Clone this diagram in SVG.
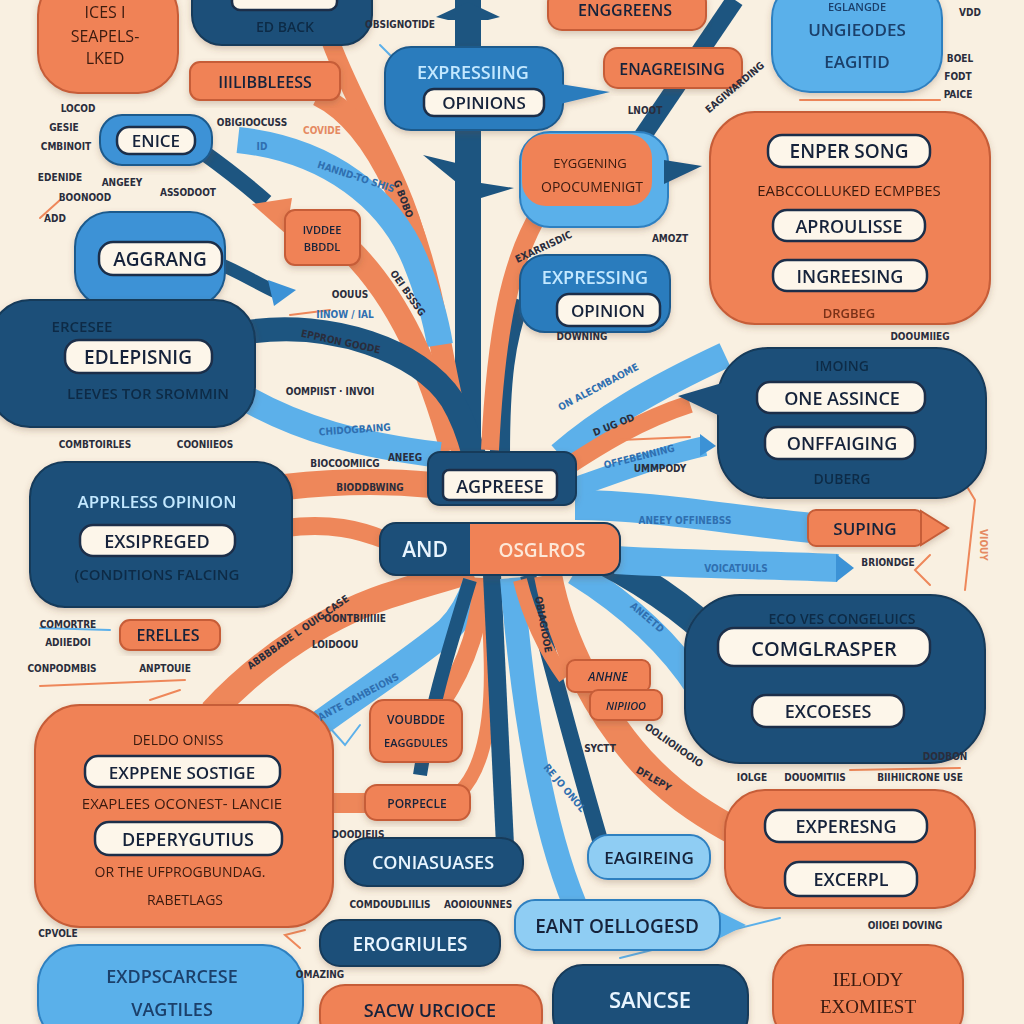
<svg xmlns="http://www.w3.org/2000/svg" width="1024" height="1024" viewBox="0 0 1024 1024">
<defs>
<style>
.or{fill:#f08257;stroke:#c65d38;stroke-width:2}
.nv{fill:#1c5079;stroke:#133a5a;stroke-width:2}
.mb{fill:#2b7cbd;stroke:#1c5a8c;stroke-width:2}
.lb{fill:#5ab0ea;stroke:#2f80c0;stroke-width:2}
.pl{fill:#8fcdf3;stroke:#2f80c0;stroke-width:2}
.pill{fill:#fdf6ea;stroke:#1a2f4a;stroke-width:2.5}
.t{font-family:"Open Sans","DejaVu Sans",sans-serif;font-weight:600;text-anchor:middle;fill:#16243b}
.w{fill:#e9f5ff}
.lt{fill:#c3e8ff}
.dm{fill:#0e2b46}
.br{fill:#3a1a10;font-weight:500}
.s{font-family:"DejaVu Sans Condensed","DejaVu Sans",sans-serif;font-weight:700;font-size:10px;fill:#2a2d3c;text-anchor:middle}
.so{fill:#e58a62}
.sb{fill:#2f6fb0}
.ro{fill:none;stroke:#ee875a}
.rl{fill:none;stroke:#5cb0ea}
.rn{fill:none;stroke:#1d5580}
.ln{fill:none;stroke-width:2;stroke-linecap:round}
</style>
<filter id="sh" x="-10%" y="-10%" width="120%" height="130%"><feDropShadow dx="0" dy="3" stdDeviation="3" flood-color="#6b4a30" flood-opacity="0.25"/></filter>
</defs>
<rect width="1024" height="1024" fill="#f9f0e1"/>

<g id="connectors">
<path class="rn" stroke-width="26" d="M468,0 L468,470"/>
<polygon points="436,17 468,2 500,17 488,20 448,20" fill="#1d5580"/>
<polygon points="423,155 456,163 456,182" fill="#1d5580"/>
<polygon points="481,183 514,188 481,198" fill="#1d5580"/>
<path class="ro" stroke-width="18" d="M330,40 C360,120 400,170 420,250 S450,390 460,450"/>
<path class="ro" stroke-width="22" d="M318,95 C380,125 420,230 438,330 S458,420 464,450"/>
<path class="rl" stroke-width="26" d="M238,140 C330,150 390,200 415,260 C428,292 436,320 440,345"/>
<path class="ro" stroke-width="24" d="M350,250 C400,300 430,370 452,450"/>
<path class="rn" stroke-width="16" d="M200,150 C228,170 248,186 266,202"/>
<polygon points="252,204 292,198 286,234" fill="#ee875a"/>
<path class="rn" stroke-width="13" d="M215,262 C240,272 258,284 276,292"/>
<polygon points="268,280 296,290 274,306" fill="#3c92d6"/>
<path class="rn" stroke-width="24" d="M248,332 C330,320 420,350 452,400 C464,420 470,440 474,455"/>
<path class="rl" stroke-width="26" d="M240,395 C300,430 360,445 440,455"/>
<path class="ro" stroke-width="26" d="M285,487 C330,482 380,480 432,485"/>
<path class="ro" stroke-width="18" d="M285,528 C330,522 360,530 385,540"/>
<path class="ro" stroke-width="26" d="M212,712 C260,660 330,612 400,592 C430,582 455,576 472,570"/>
<path class="rl" stroke-width="26" d="M300,738 C350,700 410,662 448,630 C460,618 470,600 476,582"/>
<polygon points="316,710 290,744 330,736" fill="#5cb0ea"/>
<path class="ro" stroke-width="18" d="M440,705 C470,660 480,620 482,578"/>
<path class="ro" stroke-width="20" d="M330,803 L370,803"/>
<path class="ro" stroke-width="14" d="M460,792 C500,752 492,650 486,578"/>
<path class="rn" stroke-width="14" d="M470,580 C452,640 432,700 420,775"/>
<path class="rn" stroke-width="18" d="M492,575 C496,650 500,740 505,845"/>
<path class="rl" stroke-width="24" d="M512,578 C522,700 540,820 575,905"/>
<path class="rn" stroke-width="16" d="M528,575 C545,640 565,720 600,840"/>
<path class="ro" stroke-width="14" d="M520,580 C530,620 545,650 565,678"/>
<path class="ro" stroke-width="28" d="M548,575 C560,640 600,720 650,770 C680,800 710,818 736,832"/>
<path class="rl" stroke-width="26" d="M575,572 C620,600 668,640 700,690"/>
<path class="rn" stroke-width="30" d="M580,548 C630,572 680,602 722,645"/>
<path class="rl" stroke-width="30" d="M575,505 C650,505 730,520 812,528"/>
<path class="rl" stroke-width="28" d="M615,560 C700,565 780,565 838,568"/>
<polygon points="836,554 854,568 836,582" fill="#3c92d6"/>
<path class="rl" stroke-width="26" d="M560,455 C600,420 650,390 725,355"/>
<path class="ro" stroke-width="18" d="M562,470 C600,445 640,420 690,404"/>
<path class="rl" stroke-width="20" d="M576,487 C620,472 660,456 705,446"/>
<polygon points="700,434 716,446 700,456" fill="#3c92d6"/>
<path class="rn" stroke-width="20" d="M500,455 C500,380 505,340 520,300"/>
<path class="rn" stroke-width="18" d="M640,140 L735,0"/>
<path class="ro" stroke-width="18" d="M540,212 C510,262 496,330 490,450"/>
<path class="ln" stroke="#5cb0ea" d="M620,958 L780,918"/>
<path class="ln" stroke="#ee875a" d="M150,700 L180,690"/>
<path class="ln" stroke="#ee875a" d="M40,686 L185,680"/>
<path class="ln" stroke="#5cb0ea" d="M40,628 L110,630"/>
<path class="ln" stroke="#ee875a" d="M40,218 L60,200"/>
<path class="ln" stroke="#ee875a" d="M850,770 L960,768"/>
<path class="ln" stroke="#ee875a" d="M800,100 L940,100"/>
<path class="ln" stroke="#ee875a" d="M620,440 L690,437"/>
<path class="ln" stroke="#ee875a" d="M290,315 L330,310"/>
<path class="ln" stroke="#5cb0ea" d="M395,60 L380,45"/>
<polyline class="ln" stroke="#ee875a" points="305,930 285,935 300,948"/>
<polyline class="ln" stroke="#ee875a" points="580,920 560,932 580,945"/>
<polyline class="ln" stroke="#5cb0ea" points="330,728 345,745 360,725"/>
<polyline class="ln" stroke="#ee875a" points="960,475 975,500 965,590"/>
<polyline class="ln" stroke="#ee875a" points="930,555 915,570 930,585"/>
</g>

<g id="n-top-left" filter="url(#sh)"><rect class="or" x="38" y="-25" width="140" height="118" rx="40"/>
<text class="t br" x="105" y="18" font-size="16">ICES I</text>
<text class="t br" x="105" y="42" font-size="16">SEAPELS-</text>
<text class="t br" x="105" y="64" font-size="16">LKED</text></g>

<g id="n-ed-back" filter="url(#sh)"><rect class="nv" x="192" y="-30" width="180" height="75" rx="30"/>
<rect class="pill" x="232" y="-12" width="105" height="22" rx="8"/>
<text class="t dm" x="285" y="32" font-size="14">ED BACK</text></g>

<g id="n-enggreens" filter="url(#sh)"><rect class="or" x="548" y="-12" width="158" height="42" rx="14"/>
<text class="t" x="625" y="16" font-size="16">ENGGREENS</text></g>

<g id="n-unglebodes" filter="url(#sh)"><rect class="lb" x="772" y="-20" width="170" height="112" rx="38"/>
<text class="t" x="857" y="11" font-size="11" style="fill:#1b3f6b">EGLANGDE</text>
<text class="t" x="857" y="36" font-size="17" style="fill:#1b3f6b">UNGIEODES</text>
<text class="t" x="857" y="68" font-size="17" style="fill:#1b3f6b">EAGITID</text></g>

<g id="n-illibbless" filter="url(#sh)"><rect class="or" x="190" y="62" width="150" height="38" rx="10"/>
<text class="t" x="265" y="88" font-size="16">IIILIBBLEESS</text></g>

<g id="n-expressing-opinions" filter="url(#sh)"><rect class="mb" x="385" y="47" width="178" height="83" rx="26"/>
<polygon points="560,84 610,92 560,104" fill="#2b7cbd"/>
<text class="t lt" x="473" y="79" font-size="18">EXPRESSIING</text>
<rect class="pill" x="424" y="89" width="120" height="27" rx="10"/>
<text class="t" x="484" y="109" font-size="17">OPINIONS</text></g>

<g id="n-enagreising" filter="url(#sh)"><rect class="or" x="604" y="48" width="138" height="40" rx="14"/>
<text class="t" x="672" y="75" font-size="16">ENAGREISING</text></g>

<g id="n-eyggening" filter="url(#sh)"><rect class="lb" x="520" y="132" width="148" height="95" rx="30"/>
<polygon points="664,160 702,166 664,184" fill="#1d5580"/>
<rect x="522" y="134" width="130" height="72" rx="24" fill="#f08257"/>
<text class="t br" x="590" y="168" font-size="13">EYGGENING</text>
<text class="t br" x="592" y="192" font-size="14">OPOCUMENIGT</text></g>

<g id="n-enper-song" filter="url(#sh)"><rect class="or" x="710" y="112" width="280" height="212" rx="45"/>
<rect class="pill" x="768" y="135" width="162" height="32" rx="14"/>
<text class="t" x="849" y="158" font-size="19">ENPER SONG</text>
<text class="t br" x="849" y="196" font-size="15">EABCCOLLUKED ECMPBES</text>
<rect class="pill" x="773" y="210" width="152" height="31" rx="14"/>
<text class="t" x="849" y="233" font-size="18">APROULISSE</text>
<rect class="pill" x="773" y="260" width="154" height="31" rx="14"/>
<text class="t" x="850" y="283" font-size="18">INGREESING</text>
<text class="t" x="849" y="318" font-size="13" style="fill:#7a3018">DRGBEG</text></g>

<g id="n-enice" filter="url(#sh)"><rect class="mb" x="100" y="115" width="112" height="50" rx="22" style="fill:#3c92d6"/>
<rect class="pill" x="117" y="127" width="78" height="27" rx="12"/>
<text class="t" x="156" y="147" font-size="17">ENICE</text></g>

<g id="n-aggrang" filter="url(#sh)"><rect class="mb" x="75" y="212" width="150" height="95" rx="35" style="fill:#3c92d6"/>
<rect class="pill" x="99" y="242" width="123" height="33" rx="14"/>
<text class="t" x="160" y="266" font-size="19">AGGRANG</text></g>

<g id="n-ivddee" filter="url(#sh)"><rect class="or" x="285" y="210" width="75" height="55" rx="10"/>
<text class="t" x="322" y="234" font-size="11">IVDDEE</text>
<text class="t" x="322" y="251" font-size="11">BBDDL</text></g>

<g id="n-expressing-opinion" filter="url(#sh)"><rect class="mb" x="520" y="255" width="150" height="77" rx="25"/>
<text class="t lt" x="595" y="284" font-size="18">EXPRESSING</text>
<rect class="pill" x="557" y="294" width="103" height="32" rx="12"/>
<text class="t" x="608" y="317" font-size="17">OPINION</text></g>

<g id="n-edlepisnig" filter="url(#sh)"><rect class="nv" x="-10" y="300" width="265" height="127" rx="40"/>
<text class="t dm" x="82" y="332" font-size="15">ERCESEE</text>
<rect class="pill" x="65" y="340" width="147" height="33" rx="14"/>
<text class="t" x="138" y="364" font-size="19">EDLEPISNIG</text>
<text class="t dm" x="148" y="399" font-size="15">LEEVES TOR SROMMIN</text></g>

<g id="n-one-assince" filter="url(#sh)"><rect class="nv" x="718" y="348" width="268" height="150" rx="50"/>
<polygon points="678,396 722,383 722,417" fill="#1c5079"/>
<text class="t dm" x="842" y="371" font-size="14">IMOING</text>
<rect class="pill" x="757" y="382" width="168" height="31" rx="13"/>
<text class="t" x="842" y="405" font-size="18">ONE ASSINCE</text>
<rect class="pill" x="765" y="427" width="150" height="32" rx="13"/>
<text class="t" x="842" y="450" font-size="18">ONFFAIGING</text>
<text class="t dm" x="842" y="484" font-size="14">DUBERG</text></g>

<g id="n-apprless-opinion" filter="url(#sh)"><rect class="nv" x="30" y="462" width="262" height="145" rx="35"/>
<text class="t lt" x="157" y="508" font-size="17">APPRLESS OPINION</text>
<rect class="pill" x="80" y="525" width="155" height="31" rx="13"/>
<text class="t" x="157" y="548" font-size="18">EXSIPREGED</text>
<text class="t dm" x="157" y="580" font-size="15">(CONDITIONS FALCING</text></g>

<g id="n-agpreese" filter="url(#sh)"><rect class="nv" x="428" y="452" width="148" height="53" rx="12"/>
<rect class="pill" x="443" y="470" width="114" height="30" rx="6"/>
<text class="t" x="500" y="493" font-size="18">AGPREESE</text>
<rect class="nv" x="380" y="523" width="240" height="52" rx="16"/>
<path d="M470,524 H604 A15,15 0 0 1 619,539 V559 A15,15 0 0 1 604,574 H470 Z" fill="#f08257"/>
<text class="t w" x="425" y="557" font-size="21">AND</text>
<text class="t" x="542" y="557" font-size="19" style="fill:#fde8d8">OSGLROS</text></g>

<g id="n-suping" filter="url(#sh)"><rect class="or" x="808" y="510" width="115" height="36" rx="8"/>
<polygon points="921,511 948,528 921,545" fill="#f08257" stroke="#c65d38" stroke-width="2"/>
<text class="t" x="865" y="535" font-size="17">SUPING</text></g>

<g id="n-comglrasper" filter="url(#sh)"><rect class="nv" x="685" y="595" width="300" height="168" rx="55"/>
<text class="t dm" x="842" y="624" font-size="14">ECO VES CONGELUICS</text>
<rect class="pill" x="718" y="628" width="212" height="38" rx="16"/>
<text class="t" x="824" y="656" font-size="20">COMGLRASPER</text>
<rect class="pill" x="752" y="695" width="152" height="32" rx="14"/>
<text class="t" x="828" y="718" font-size="18">EXCOESES</text></g>

<g id="n-erelles" filter="url(#sh)"><rect class="or" x="120" y="620" width="100" height="30" rx="10"/>
<text class="t" x="168" y="641" font-size="16">ERELLES</text></g>

<g id="n-deperygutius" filter="url(#sh)"><rect class="or" x="35" y="705" width="298" height="222" rx="45"/>
<text class="t br" x="178" y="745" font-size="14">DELDO ONISS</text>
<rect class="pill" x="85" y="756" width="195" height="31" rx="13"/>
<text class="t" x="182" y="779" font-size="17">EXPPENE SOSTIGE</text>
<text class="t br" x="182" y="809" font-size="15">EXAPLEES OCONEST- LANCIE</text>
<rect class="pill" x="95" y="822" width="187" height="33" rx="14"/>
<text class="t" x="188" y="846" font-size="18">DEPERYGUTIUS</text>
<text class="t br" x="180" y="877" font-size="14">OR THE UFPROGBUNDAG.</text>
<text class="t br" x="185" y="905" font-size="14">RABETLAGS</text></g>

<g id="n-voubdde" filter="url(#sh)"><rect class="or" x="370" y="700" width="92" height="62" rx="14"/>
<text class="t" x="416" y="724" font-size="12">VOUBDDE</text>
<text class="t" x="416" y="747" font-size="11">EAGGDULES</text></g>

<g id="n-porpecle" filter="url(#sh)"><rect class="or" x="365" y="785" width="105" height="35" rx="12"/>
<text class="t" x="417" y="808" font-size="12">PORPECLE</text></g>

<g id="n-anhne" filter="url(#sh)"><rect class="or" x="567" y="660" width="83" height="32" rx="8"/>
<text class="t" x="608" y="681" font-size="12" font-style="italic">ANHNE</text>
<rect class="or" x="590" y="690" width="72" height="30" rx="8"/>
<text class="t" x="626" y="710" font-size="11" font-style="italic">NIPIIOO</text></g>

<g id="n-coniasuases" filter="url(#sh)"><rect class="nv" x="345" y="838" width="178" height="48" rx="22"/>
<text class="t w" x="433" y="869" font-size="18">CONIASUASES</text></g>

<g id="n-erogriules" filter="url(#sh)"><rect class="nv" x="320" y="920" width="180" height="46" rx="20"/>
<text class="t w" x="410" y="951" font-size="19">EROGRIULES</text></g>

<g id="n-eagireing" filter="url(#sh)"><rect class="pl" x="588" y="835" width="122" height="44" rx="20"/>
<text class="t" x="649" y="864" font-size="17">EAGIREING</text></g>

<g id="n-eant" filter="url(#sh)"><polygon points="712,908 746,925 712,942" fill="#5ab0ea"/>
<rect class="pl" x="515" y="900" width="205" height="50" rx="20"/>
<text class="t" x="617" y="933" font-size="19">EANT OELLOGESD</text></g>

<g id="n-experesng" filter="url(#sh)"><rect class="or" x="725" y="790" width="250" height="118" rx="40"/>
<rect class="pill" x="765" y="810" width="162" height="32" rx="14"/>
<text class="t" x="846" y="833" font-size="18">EXPERESNG</text>
<rect class="pill" x="785" y="862" width="132" height="34" rx="14"/>
<text class="t" x="851" y="886" font-size="18">EXCERPL</text></g>

<g id="n-sancse" filter="url(#sh)"><rect class="nv" x="553" y="965" width="195" height="80" rx="30"/>
<text class="t w" x="650" y="1008" font-size="22">SANCSE</text></g>

<g id="n-ielody" filter="url(#sh)"><rect class="or" x="773" y="945" width="190" height="100" rx="35"/>
<text class="t br" x="868" y="986" font-size="19" style="font-family:'Liberation Serif',serif">IELODY</text>
<text class="t br" x="868" y="1013" font-size="19" style="font-family:'Liberation Serif',serif">EXOMIEST</text></g>

<g id="n-vagtiles" filter="url(#sh)"><rect class="lb" x="38" y="945" width="265" height="100" rx="40"/>
<text class="t" x="172" y="983" font-size="18" style="fill:#1b3f6b">EXDPSCARCESE</text>
<text class="t" x="172" y="1016" font-size="18" style="fill:#1b3f6b">VAGTILES</text></g>

<g id="n-sacw" filter="url(#sh)"><rect class="or" x="320" y="985" width="222" height="60" rx="25"/>
<text class="t" x="430" y="1017" font-size="18">SACW URCIOCE</text></g>

<g id="labels">
<text class="s" x="400" y="28">OBSIGNOTIDE</text>
<text class="s" x="78" y="112">LOCOD</text>
<text class="s" x="64" y="131">GESIE</text>
<text class="s" x="66" y="150">CMBINOIT</text>
<text class="s" x="252" y="126">OBIGIOOCUSS</text>
<text class="s so" x="322" y="134">COVIDE</text>
<text class="s" x="60" y="181">EDENIDE</text>
<text class="s" x="122" y="186">ANGEEY</text>
<text class="s" x="85" y="201">BOONOOD</text>
<text class="s" x="188" y="196">ASSODOOT</text>
<text class="s" x="55" y="222">ADD</text>
<text class="s" x="645" y="114">LNOOT</text>
<text class="s" x="737" y="90" transform="rotate(-40 737 90)">EAGIWARDING</text>
<text class="s" x="670" y="242">AMOZT</text>
<text class="s" x="545" y="250" transform="rotate(-25 545 250)">EXARRISDIC</text>
<text class="s" x="970" y="16">VDD</text>
<text class="s" x="960" y="62">BOEL</text>
<text class="s" x="958" y="80">FODT</text>
<text class="s" x="958" y="98">PAICE</text>
<text class="s" x="350" y="298">OOUUS</text>
<text class="s sb" x="345" y="318" font-size="14">IINOW / IAL</text>
<text class="s sb" x="262" y="150" font-size="11">ID</text>
<text class="s sb" x="355" y="180" font-size="12" transform="rotate(18 355 180)">HANND-TO SHIS</text>
<text class="s" x="400" y="200" transform="rotate(70 400 200)">G BOBO</text>
<text class="s" x="405" y="295" transform="rotate(55 405 295)">OEI BSSSG</text>
<text class="s" x="340" y="345" font-size="12" transform="rotate(12 340 345)">EPPRON GOODE</text>
<text class="s" x="330" y="395">OOMPIIST · INVOI</text>
<text class="s sb" x="355" y="433" font-size="11" transform="rotate(-4 355 433)">CHIDOGBAING</text>
<text class="s" x="95" y="448">COMBTOIRLES</text>
<text class="s" x="205" y="448">COONIIEOS</text>
<text class="s" x="345" y="467">BIOCOOMIICG</text>
<text class="s" x="405" y="461">ANEEG</text>
<text class="s" x="370" y="491">BIODDBWING</text>
<text class="s" x="300" y="635" font-size="11" transform="rotate(-35 300 635)">ABBBBABE L OUIG CASE</text>
<text class="s" x="355" y="622">OONTBIIIIIIE</text>
<text class="s" x="335" y="648">LOIDOOU</text>
<text class="s sb" x="360" y="700" font-size="12" transform="rotate(-28 360 700)">ANTE GAHBEIONS</text>
<text class="s" x="68" y="628">COMORTRE</text>
<text class="s" x="68" y="646">ADIIEDOI</text>
<text class="s" x="62" y="672">CONPODMBIS</text>
<text class="s" x="165" y="672">ANPTOUIE</text>
<text class="s" x="358" y="838">DOODIEIIS</text>
<text class="s" x="390" y="908">COMDOUDLIILIS</text>
<text class="s" x="478" y="908">AOOIOUNNES</text>
<text class="s" x="320" y="978">OMAZING</text>
<text class="s" x="58" y="937">CPVOLE</text>
<text class="s sb" x="600" y="390" font-size="11" transform="rotate(-28 600 390)">ON ALECMBAOME</text>
<text class="s" x="615" y="428" transform="rotate(-22 615 428)">D UG OD</text>
<text class="s sb" x="640" y="460" transform="rotate(-14 640 460)">OFFEBENNING</text>
<text class="s" x="660" y="472">UMMPODY</text>
<text class="s sb" x="685" y="524" font-size="12">ANEEY OFFINEBSS</text>
<text class="s sb" x="736" y="572" font-size="13">VOICATUULS</text>
<text class="s" x="888" y="566">BRIONDGE</text>
<text class="s sb" x="645" y="620" font-size="12" transform="rotate(40 645 620)">ANEETD</text>
<text class="s" x="540" y="625" transform="rotate(80 540 625)">OBIAGIOOE</text>
<text class="s" x="600" y="752">SYCTT</text>
<text class="s" x="652" y="782" font-size="12" transform="rotate(30 652 782)">DFLEPY</text>
<text class="s" x="672" y="748" transform="rotate(35 672 748)">OOLIIOIIOOIO</text>
<text class="s sb" x="562" y="790" transform="rotate(50 562 790)">RE JO ONOL</text>
<text class="s" x="752" y="781">IOLGE</text>
<text class="s" x="815" y="781">DOUOMITIIS</text>
<text class="s" x="945" y="760">DODBON</text>
<text class="s" x="920" y="781">BIIHIICRONE USE</text>
<text class="s" x="905" y="929">OIIOEI DOVING</text>
<text class="s" x="582" y="340">DOWNING</text>
<text class="s" x="920" y="340">DOOUMIIEG</text>
<text class="s so" x="980" y="545" font-size="13" transform="rotate(90 980 545)">VIOUY</text>
</g>
</svg>
